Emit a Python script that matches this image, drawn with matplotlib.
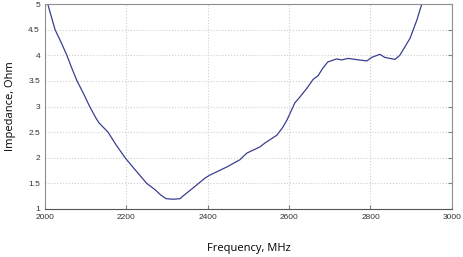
import matplotlib
matplotlib.use("Agg")
import matplotlib.pyplot as plt

freq = [2007, 2025, 2040, 2054, 2066, 2079, 2095, 2110, 2125, 2133, 2155, 2175,
        2197, 2220, 2250, 2270, 2285, 2298, 2315, 2332, 2339, 2364, 2393, 2405,
        2447, 2479, 2496, 2528, 2541, 2570, 2585, 2595, 2614, 2627, 2644, 2659,
        2671, 2683, 2695, 2717, 2729, 2745, 2762, 2791, 2803, 2823, 2835, 2860,
        2872, 2897, 2914, 2926]
impedance = [5.0, 4.5, 4.25, 4.0, 3.75, 3.5, 3.25, 3.0, 2.78, 2.68, 2.5, 2.25,
             2.0, 1.78, 1.5, 1.38, 1.27, 1.2, 1.19, 1.2, 1.25, 1.41, 1.6, 1.66,
             1.82, 1.96, 2.09, 2.21, 2.29, 2.44, 2.6, 2.74, 3.07, 3.19, 3.36, 3.53,
             3.6, 3.75, 3.87, 3.93, 3.91, 3.94, 3.92, 3.89, 3.96, 4.02, 3.96, 3.92,
             4.0, 4.33, 4.69, 5.0]

fig = plt.figure(figsize=(4.63, 2.57), dpi=100)
ax = fig.add_axes([0.097, 0.187, 0.879, 0.797])
ax.plot(freq, impedance, color='#3b3f8f', lw=0.9)

ax.set_xlim(2000, 3000)
ax.set_ylim(1, 5)
ax.set_xticks([2000, 2200, 2400, 2600, 2800, 3000])
ax.set_yticks([1, 1.5, 2, 2.5, 3, 3.5, 4, 4.5, 5])
ax.set_yticklabels(['1', '1.5', '2', '2.5', '3', '3.5', '4', '4.5', '5'])
ax.grid(True, color='#d0d0d0', ls=':', lw=0.8)
ax.tick_params(direction='in', labelsize=6, length=3, colors='#808080',
               labelcolor='#333333', right=True, left=False)
for lab in ax.get_xticklabels() + ax.get_yticklabels():
    lab.set_family('Liberation Sans')
for s in ax.spines.values():
    s.set_color('#909090')
    s.set_linewidth(0.8)
ax.spines['bottom'].set_color('#555555')

ax.set_xlabel("Frequency, MHz", fontsize=8, family='Open Sans', labelpad=16)
ax.set_ylabel("Impedance, Ohm", fontsize=8, family='Open Sans', labelpad=9)

fig.savefig("out.png", dpi=100)
